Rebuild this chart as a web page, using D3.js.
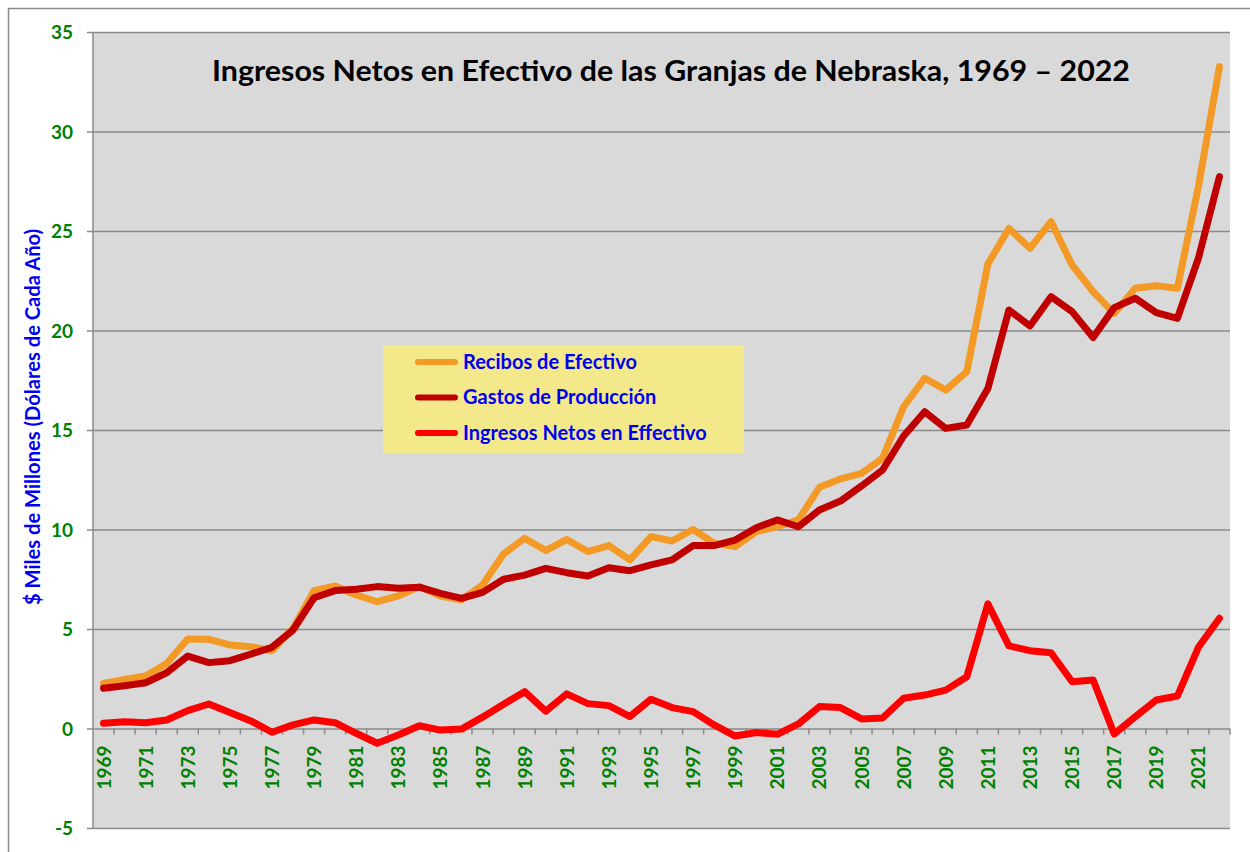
<!DOCTYPE html>
<head>
   <meta charset="utf-8">
   <script src="https://d3js.org/d3.v7.min.js"></script>
   <style>
   body{
       margin: 0;
       background: #ffffff;
   }
   text{
      font-family: Lato, "Open Sans", sans-serif;
      font-weight: 700;
   }
   text.title{
      font-size: 28.5px;
      fill: #000000;
   }
   text.yTitle{
      font-size: 20px;
      fill: #0000f0;
   }
   text.yTick{
      font-size: 19px;
      fill: #008000;
   }
   text.xTick{
      font-size: 19px;
      fill: #008000;
   }
   text.legendText{
      font-size: 20px;
      fill: #0000f0;
   }
   </style>
</head>

<body>
   <script>
const width  = 1250;
const height = 852;

const title  = "Ingresos Netos en Efectivo de las Granjas de Nebraska, 1969 \u2013 2022";
const yTitle = "$ Miles de Millones (D\u00f3lares de Cada A\u00f1o)";

// data, billions of dollars
const years = d3.range(1969, 2023);

const recibos = [
   2.27, 2.47, 2.64, 3.27, 4.50, 4.48, 4.20, 4.11, 3.91, 5.03,
   6.93, 7.16, 6.71, 6.37, 6.66, 7.13, 6.66, 6.46, 7.21, 8.77,
   9.56, 8.94, 9.50, 8.89, 9.19, 8.47, 9.64, 9.42, 10.00, 9.31,
   9.14, 9.89, 10.14, 10.48, 12.12, 12.54, 12.82, 13.58, 16.17, 17.60,
   17.01, 17.93, 23.34, 25.13, 24.13, 25.47, 23.29, 21.95, 20.86, 22.12,
   22.25, 22.12, 27.23, 33.26
];

const gastos = [
   2.02, 2.15, 2.30, 2.80, 3.64, 3.31, 3.41, 3.74, 4.08, 4.95,
   6.57, 6.93, 7.00, 7.13, 7.05, 7.10, 6.79, 6.54, 6.84, 7.50,
   7.71, 8.05, 7.83, 7.66, 8.08, 7.93, 8.22, 8.47, 9.19, 9.19,
   9.47, 10.09, 10.48, 10.14, 10.98, 11.43, 12.19, 12.99, 14.70, 15.92,
   15.08, 15.25, 17.08, 21.03, 20.23, 21.70, 20.95, 19.65, 21.15, 21.62,
   20.90, 20.61, 23.63, 27.73
];

const ingresos = [
   0.26, 0.34, 0.29, 0.43, 0.90, 1.23, 0.80, 0.38, -0.19, 0.18,
   0.43, 0.29, -0.24, -0.74, -0.33, 0.14, -0.08, -0.03, 0.57, 1.22,
   1.85, 0.87, 1.74, 1.25, 1.15, 0.60, 1.47, 1.05, 0.85, 0.18,
   -0.38, -0.20, -0.29, 0.23, 1.10, 1.05, 0.48, 0.53, 1.52, 1.68,
   1.93, 2.60, 6.26, 4.15, 3.91, 3.81, 2.35, 2.44, -0.28, 0.59,
   1.43, 1.63, 4.08, 5.54
];

const yTicks = [-5, 0, 5, 10, 15, 20, 25, 30, 35];
const xLabels = years.filter((d, i) => i % 2 === 0);

const seriesNames  = ["Recibos de Efectivo", "Gastos de Producci\u00f3n", "Ingresos Netos en Effectivo"];
const seriesColors = ["#f39a26", "#c00000", "#ff0000"];

const series = [recibos, gastos, ingresos].map((vals, k) => ({
   name  : seriesNames[k],
   colour: seriesColors[k],
   values: vals.map((v, i) => ({year: years[i], value: v}))
}));

const plot = {left: 93, right: 1230, top: 32, bottom: 828};
const gridColour = "#8a8a8a";

const svg = d3.select("body").append("svg")
   .attr("width", width)
   .attr("height", height);

// outer chart border
svg.append("rect")
   .attr("x", 8.5)
   .attr("y", 8.5)
   .attr("width", width + 40)
   .attr("height", height + 40)
   .attr("fill", "#ffffff")
   .attr("stroke", "#8c8c8c")
   .attr("stroke-width", 1.5);

const x = d3.scaleBand()
   .domain(years)
   .range([plot.left, plot.right])
   .padding(0);

const y = d3.scaleLinear()
   .domain([-5, 35])
   .range([plot.bottom, plot.top]);

const xc = d => x(d) + x.bandwidth() / 2;

// plot area
svg.append("rect")
   .attr("x", plot.left)
   .attr("y", plot.top)
   .attr("width", plot.right - plot.left)
   .attr("height", plot.bottom - plot.top)
   .attr("fill", "#d9d9d9");

// y axis: gridlines, ticks and labels
const yAxis = d3.axisLeft(y)
   .tickValues(yTicks)
   .tickSize(6)
   .tickPadding(14)
   .tickFormat(d => String(d));

const yAxisG = svg.append("g")
   .attr("transform", `translate(${plot.left},0)`)
   .call(yAxis);

yAxisG.select(".domain")
   .attr("stroke", gridColour)
   .attr("stroke-width", 1.5)
   .attr("d", `M0,${plot.top}V${plot.bottom}`);

yAxisG.selectAll(".tick line")
   .attr("stroke", gridColour)
   .attr("stroke-width", 1.5);

yAxisG.selectAll(".tick")
   .append("line")
   .attr("x1", 0)
   .attr("x2", plot.right - plot.left)
   .attr("stroke", gridColour)
   .attr("stroke-width", 1.5);

yAxisG.selectAll(".tick text")
   .attr("class", "yTick")
   .attr("dy", "0.36em")
   .attr("fill", null);

// x axis on the zero line, ticks between categories
const xAxisG = svg.append("g")
   .attr("transform", `translate(0,${y(0)})`);

xAxisG.selectAll("line.xTickMark")
   .data(years.slice(1).concat([null]))
   .enter()
   .append("line")
   .attr("class", "xTickMark")
   .attr("x1", d => d === null ? plot.right : x(d))
   .attr("x2", d => d === null ? plot.right : x(d))
   .attr("y1", 0)
   .attr("y2", 6)
   .attr("stroke", gridColour)
   .attr("stroke-width", 1.5);

xAxisG.selectAll("text.xTick")
   .data(xLabels)
   .enter()
   .append("text")
   .attr("class", "xTick")
   .attr("transform", d => `translate(${xc(d) + 7},17) rotate(-90)`)
   .style("text-anchor", "end")
   .text(d => d);

// lines
const line = d3.line()
   .x(d => xc(d.year))
   .y(d => y(d.value));

svg.selectAll("path.series")
   .data(series)
   .enter()
   .append("path")
   .attr("class", "series")
   .attr("d", d => line(d.values))
   .attr("fill", "none")
   .attr("stroke", d => d.colour)
   .attr("stroke-width", 7)
   .attr("stroke-linejoin", "round")
   .attr("stroke-linecap", "round");

// title
svg.append("text")
   .attr("class", "title")
   .attr("x", 212)
   .attr("y", 81)
   .attr("textLength", 918)
   .attr("lengthAdjust", "spacingAndGlyphs")
   .text(title);

// y axis title
svg.append("text")
   .attr("class", "yTitle")
   .attr("transform", `translate(40,417) rotate(-90)`)
   .style("text-anchor", "middle")
   .attr("textLength", 376)
   .attr("lengthAdjust", "spacingAndGlyphs")
   .text(yTitle);

// legend
const legend = svg.append("g")
   .attr("transform", "translate(383,345)");

legend.append("rect")
   .attr("width", 361)
   .attr("height", 108)
   .attr("fill", "#f3e88a");

const legendRow = legend.selectAll("g.legendRow")
   .data(series)
   .enter()
   .append("g")
   .attr("class", "legendRow")
   .attr("transform", (d, i) => `translate(0,${17 + i * 35.5})`);

legendRow.append("line")
   .attr("x1", 35)
   .attr("x2", 72)
   .attr("stroke", d => d.colour)
   .attr("stroke-width", 6)
   .attr("stroke-linecap", "round");

legendRow.append("text")
   .attr("class", "legendText")
   .attr("x", 80)
   .attr("y", 6.5)
   .text(d => d.name);

   </script>
</body>
